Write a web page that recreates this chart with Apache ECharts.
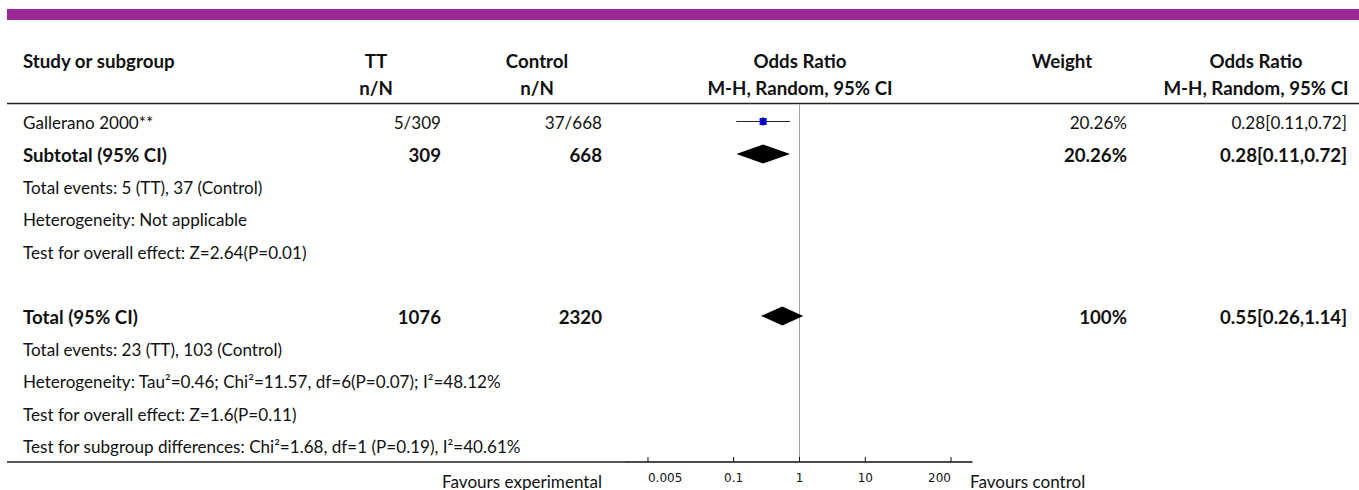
<!DOCTYPE html>
<html>
<head>
<meta charset="utf-8">
<script src="https://cdn.jsdelivr.net/npm/echarts@6/dist/echarts.min.js"></script>
<style>
html,body{margin:0;padding:0;background:#ffffff;}
#c{width:1359px;height:490px;}
</style>
</head>
<body>
<div id="c"></div>
<script>
// ---------- DATA ----------
const headerRow1 = ['Study or subgroup', 'TT', 'Control', 'Odds Ratio', 'Weight', 'Odds Ratio'];
const headerRow2 = ['', 'n/N', 'n/N', 'M-H, Random, 95% CI', '', 'M-H, Random, 95% CI'];

const rowLabels = [
  'Gallerano 2000**',
  'Subtotal (95% CI)',
  'Total events: 5 (TT), 37 (Control)',
  'Heterogeneity: Not applicable',
  'Test for overall effect: Z=2.64(P=0.01)',
  '',
  'Total (95% CI)',
  'Total events: 23 (TT), 103 (Control)',
  'Heterogeneity: Tau\u00B2=0.46; Chi\u00B2=11.57, df=6(P=0.07); I\u00B2=48.12%',
  'Test for overall effect: Z=1.6(P=0.11)',
  'Test for subgroup differences: Chi\u00B2=1.68, df=1 (P=0.19), I\u00B2=40.61%'
];
const ttCol      = ['5/309', '309', '', '', '', '', '1076', '', '', '', ''];
const ctrlCol    = ['37/668', '668', '', '', '', '', '2320', '', '', '', ''];
const weightCol  = ['20.26%', '20.26%', '', '', '', '', '100%', '', '', '', ''];
const orTextCol  = ['0.28[0.11,0.72]', '0.28[0.11,0.72]', '', '', '', '', '0.55[0.26,1.14]', '', '', '', ''];
const boldRows   = [1, 6];

// individual studies (row index, OR, lower, upper)
const studyRows = [0];
const studyOR   = [0.28];
const studyLo   = [0.11];
const studyHi   = [0.72];

// pooled diamonds
const poolRows = [1, 6];
const poolOR   = [0.28, 0.55];
const poolLo   = [0.11, 0.26];
const poolHi   = [0.72, 1.14];

// axis ticks
const tickValues = [0.005, 0.1, 1, 10, 200];
const tickLabels = ['0.005', '0.1', '1', '10', '200'];
const nullEffect = 1;

const favoursLeft = 'Favours experimental';
const favoursRight = 'Favours control';

// ---------- LAYOUT / STYLE ----------
const FAM = 'Lato';
function fitSize(weight, sample, target) {
  const ctx = document.createElement('canvas').getContext('2d');
  ctx.font = weight + ' 100px ' + FAM;
  return 100 * target / ctx.measureText(sample).width;
}
const REG = fitSize('normal', 'Test for overall effect: Z=2.64(P=0.01)', 284);
const BOLD = fitSize('bold', 'Subtotal (95% CI)', 144);
const TXT = '#111111';

const gridLeft = 627, gridWidth = 345, gridTop = 104, gridBottomY = 462;
const yMin = -0.54, yMax = 10.51;

const chart = echarts.init(document.getElementById('c'), null, {renderer: 'svg'});

chart.setOption({
  animation: false,
  backgroundColor: '#ffffff',
  grid: {left: gridLeft, width: gridWidth, top: gridTop, height: gridBottomY - gridTop, containLabel: false},
  xAxis: {
    type: 'log', logBase: 10, min: 0.0024, max: 417,
    axisLine: {show: true, onZero: false, lineStyle: {color: '#111', width: 1.5}},
    axisTick: {show: false}, axisLabel: {show: false}, splitLine: {show: false}
  },
  yAxis: {
    type: 'value', inverse: true, min: yMin, max: yMax, show: false,
    splitLine: {show: false}
  },
  series: [
    {
      // null-effect reference line
      type: 'custom', clip: false,
      encode: {x: 0},
      data: [[nullEffect]],
      renderItem: function (params, api) {
        const p = api.coord([api.value(0), 0]);
        return {type: 'line', shape: {x1: p[0], y1: params.coordSys.y, x2: p[0], y2: params.coordSys.y + params.coordSys.height},
          style: {stroke: '#a0a0a0', lineWidth: 1}};
      }
    },
    {
      type: 'custom', clip: false,
      encode: {x: 0, y: 1},
      data: studyRows.map((r, i) => [studyOR[i], r, studyLo[i], studyHi[i]]),
      renderItem: function (params, api) {
        const c = api.coord([api.value(0), api.value(1)]);
        const l = api.coord([api.value(2), api.value(1)]);
        const h = api.coord([api.value(3), api.value(1)]);
        return {type: 'group', children: [
          {type: 'line', shape: {x1: l[0], y1: c[1], x2: h[0], y2: c[1]}, style: {stroke: '#222', lineWidth: 1}},
          {type: 'rect', shape: {x: c[0] - 3.5, y: c[1] - 3.5, width: 7, height: 7}, style: {fill: '#0000ff'}},
          {type: 'line', shape: {x1: c[0], y1: c[1] - 4.5, x2: c[0], y2: c[1] + 4.5}, style: {stroke: '#222', lineWidth: 1}}
        ]};
      }
    },
    {
      type: 'custom', clip: false,
      encode: {x: 0, y: 1},
      data: poolRows.map((r, i) => [poolOR[i], r, poolLo[i], poolHi[i]]),
      renderItem: function (params, api) {
        const c = api.coord([api.value(0), api.value(1)]);
        const l = api.coord([api.value(2), api.value(1)]);
        const h = api.coord([api.value(3), api.value(1)]);
        const hh = 9.5;
        return {type: 'polygon', shape: {points: [[l[0], c[1]], [c[0], c[1] - hh], [h[0], c[1]], [c[0], c[1] + hh]]},
          style: {fill: '#000'}};
      }
    },
    {
      type: 'custom', clip: false,
      encode: {x: 0},
      data: tickValues.map((v, i) => [v, i]),
      renderItem: function (params, api) {
        const i = api.value(1);
        const p = api.coord([api.value(0), yMax]);
        const yb = params.coordSys.y + params.coordSys.height;
        const align = i === 0 ? 'left' : (i === tickValues.length - 1 ? 'right' : 'center');
        return {type: 'group', children: [
          {type: 'line', shape: {x1: p[0], y1: yb - 5, x2: p[0], y2: yb}, style: {stroke: '#111', lineWidth: 1}},
          {type: 'text', x: p[0], y: yb + 16,
           style: {text: tickLabels[i], fill: TXT, fontFamily: 'DejaVu Sans', fontSize: 12, align: align, verticalAlign: 'middle'}}
        ]};
      }
    }
  ]
});

// ---------- TABLE TEXT ----------
function txt(x, y, s, align, bold) {
  return {type: 'text', x: x, y: y, silent: true,
    style: {text: s, fill: TXT, fontFamily: FAM, fontSize: bold ? BOLD : REG,
      fontWeight: bold ? 'bold' : 'normal', align: align, verticalAlign: 'middle'}};
}
const g = [];
g.push({type: 'rect', shape: {x: 7, y: 9, width: 1352, height: 11}, style: {fill: '#9b2893'}, silent: true});
g.push({type: 'line', shape: {x1: 7, y1: 103.5, x2: 1359, y2: 103.5}, style: {stroke: '#222', lineWidth: 1.5}, silent: true});
g.push({type: 'line', shape: {x1: 7, y1: gridBottomY, x2: gridLeft, y2: gridBottomY}, style: {stroke: '#222', lineWidth: 1.5}, silent: true});

const hy1 = 61, hy2 = 88;
const hx = [23, 376, 537, 800, 1062, 1256];
const ha = ['left', 'center', 'center', 'center', 'center', 'center'];
headerRow1.forEach((s, i) => { if (s) g.push(txt(hx[i], hy1, s, ha[i], true)); });
headerRow2.forEach((s, i) => { if (s) g.push(txt(hx[i], hy2, s, ha[i], true)); });

rowLabels.forEach((s, i) => {
  const y = chart.convertToPixel({yAxisIndex: 0}, i) + 1;
  const b = boldRows.indexOf(i) >= 0;
  if (s) g.push(txt(23, y, s, 'left', b));
  if (ttCol[i]) g.push(txt(441, y, ttCol[i], 'right', b));
  if (ctrlCol[i]) g.push(txt(602, y, ctrlCol[i], 'right', b));
  if (weightCol[i]) g.push(txt(1127, y, weightCol[i], 'right', b));
  if (orTextCol[i]) g.push(txt(1347, y, orTextCol[i], 'right', b));
});
g.push(txt(602, 481, favoursLeft, 'right', false));
g.push(txt(970, 481, favoursRight, 'left', false));

chart.setOption({graphic: {elements: g}});
</script>
</body>
</html>
